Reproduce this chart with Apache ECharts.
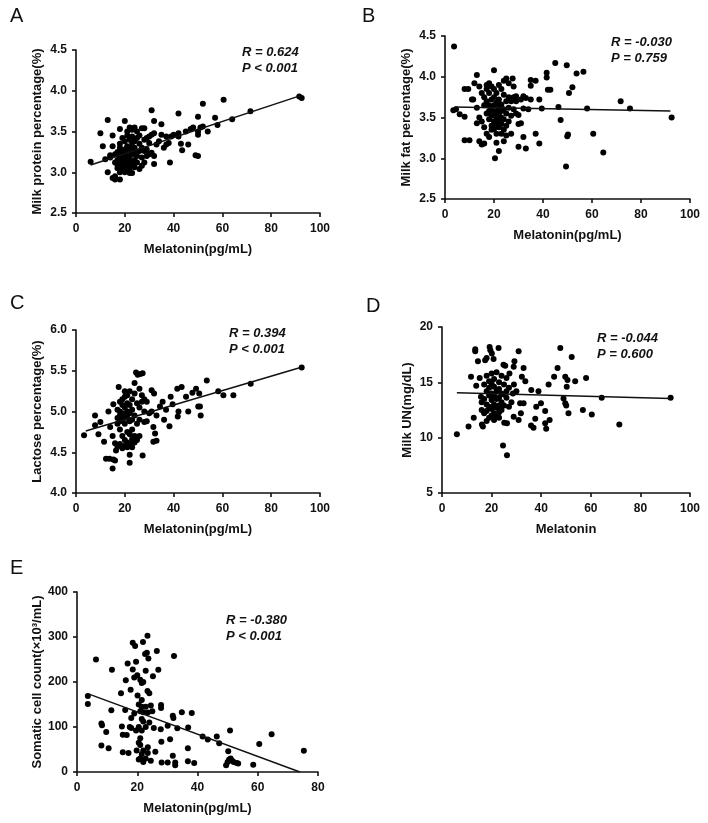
<!DOCTYPE html>
<html>
<head>
<meta charset="utf-8">
<script src="https://cdn.jsdelivr.net/npm/echarts@6/dist/echarts.min.js"></script>
<style>
  html, body { margin: 0; background: #fff; }
  #chart { width: 708px; height: 823px; }
</style>
</head>
<body>
<div id="chart"></div>
<script>
// melatonin (pg/mL) vs milk traits, one [x, y] pair per cow
const proteinData = [
  [6, 3.13], [10, 3.48], [11, 3.32], [12, 3.16], [13, 3.64], [13, 3.0], [14, 3.21], [14, 3.18], [15, 3.45], [15, 3.32],
  [15, 2.93], [16, 2.91], [16, 2.95], [16, 3.12], [16, 3.22], [17, 3.09], [17, 3.05], [17, 3.25], [17, 3.15], [18, 3.53],
  [18, 2.91], [18, 3.0], [18, 3.1], [18, 3.2], [18, 3.3], [18, 3.35], [19, 3.42], [19, 3.05], [19, 3.15], [19, 3.25],
  [19, 3.12], [19, 3.02], [20, 3.63], [20, 3.38], [20, 3.28], [20, 3.18], [20, 3.08], [20, 3.0], [20, 3.22], [20, 3.12],
  [21, 3.5], [21, 3.45], [21, 3.32], [21, 3.26], [21, 3.16], [21, 3.06], [21, 3.1], [21, 3.02], [22, 3.55], [22, 3.4],
  [22, 3.3], [22, 3.2], [22, 3.14], [22, 3.05], [22, 2.99], [23, 3.52], [23, 3.44], [23, 3.36], [23, 3.28], [23, 3.22],
  [23, 3.1], [23, 2.99], [24, 3.55], [24, 3.38], [24, 3.3], [24, 3.25], [24, 3.15], [24, 3.06], [25, 3.5], [25, 3.42],
  [25, 3.2], [25, 3.12], [26, 3.45], [26, 3.35], [26, 3.26], [26, 3.04], [27, 3.54], [27, 3.3], [27, 3.18], [27, 3.08],
  [28, 3.54], [28, 3.4], [28, 3.26], [28, 3.12], [29, 3.42], [29, 3.28], [29, 3.2], [30, 3.44], [30, 3.36], [30, 3.22],
  [31, 3.46], [31, 3.76], [31, 3.24], [32, 3.48], [32, 3.63], [32, 3.1], [32, 3.2], [33, 3.34], [34, 3.38], [35, 3.59],
  [35, 3.46], [36, 3.3], [37, 3.34], [37, 3.44], [38, 3.36], [38.5, 3.12], [39, 3.44], [40, 3.46], [42, 3.72], [42, 3.44],
  [42, 3.48], [43, 3.35], [43.5, 3.27], [45, 3.5], [46, 3.34], [47, 3.53], [48, 3.55], [49, 3.21], [50, 3.2], [50, 3.46],
  [50, 3.68], [50, 3.5], [51, 3.55], [52, 3.84], [52, 3.56], [54, 3.5], [57, 3.67], [58, 3.58], [60.5, 3.89], [64, 3.65],
  [71.5, 3.75], [91.5, 3.93], [92.5, 3.91]
];
const fatData = [
  [3.7, 4.37], [3.4, 3.59], [4.5, 3.6], [6, 3.54], [8, 3.51], [8, 3.22], [10, 3.22], [8, 3.85], [9.5, 3.85], [11, 3.72],
  [11.5, 3.72], [12, 3.92], [13, 4.02], [13, 3.43], [13, 3.62], [14, 3.21], [14, 3.5], [14, 3.88], [15, 3.17], [15, 3.8],
  [15, 3.45], [16, 3.18], [16, 3.65], [16, 3.75], [16, 3.38], [17, 3.85], [17, 3.55], [17, 3.3], [17, 3.9], [17, 3.7],
  [18, 3.58], [18, 3.48], [18, 3.8], [18, 3.26], [18, 3.65], [18, 3.92], [19, 3.88], [19, 3.72], [19, 3.6], [19, 3.4],
  [19, 3.52], [19, 3.35], [20, 4.08], [20, 3.85], [20, 3.75], [20, 3.65], [20, 3.55], [20, 3.45], [20.4, 3.0], [20, 3.36],
  [21, 3.19], [21, 3.8], [21, 3.68], [21, 3.58], [21, 3.5], [21, 3.42], [21, 3.3], [22, 3.09], [22, 3.9], [22, 3.72],
  [22, 3.62], [22, 3.55], [22, 3.46], [22, 3.38], [23, 3.85], [23, 3.66], [23, 3.58], [23, 3.5], [23, 3.42], [23, 3.3],
  [24, 3.21], [24, 3.95], [24, 3.78], [24, 3.6], [24, 3.48], [24, 3.35], [25, 3.98], [25, 3.7], [25, 3.55], [25, 3.4],
  [25, 3.28], [26, 3.75], [26, 3.62], [26, 3.45], [26, 3.92], [27, 3.7], [27, 3.52], [27, 3.3], [27.6, 3.98], [28, 3.75],
  [28, 3.6], [28, 3.88], [29, 3.55], [29, 3.76], [29, 3.7], [30, 3.14], [30, 3.53], [30, 3.42], [31, 3.72], [31, 3.43],
  [32, 3.61], [32, 3.26], [32, 3.76], [33, 3.12], [33, 3.74], [34, 3.6], [35, 3.96], [35, 3.89], [35, 3.72], [37, 3.95],
  [37, 3.3], [38.5, 3.18], [38.5, 3.72], [39.5, 3.61], [41.5, 4.05], [41.5, 3.99], [42, 3.84], [43, 3.84], [45, 4.17], [46.3, 3.63],
  [47.2, 3.47], [49.7, 4.14], [50.2, 3.29], [49.9, 3.27], [49.4, 2.9], [50.6, 3.8], [52, 3.87], [53.7, 4.04], [56.5, 4.06], [58, 3.61],
  [60.5, 3.3], [64.6, 3.07], [71.7, 3.7], [75.5, 3.61], [92.5, 3.5]
];
const lactoseData = [
  [3.3, 4.71], [7.8, 4.95], [7.8, 4.83], [9.2, 4.72], [10, 4.87], [11.5, 4.63], [12.3, 4.42], [13.3, 5.0], [13.7, 4.42], [14, 4.81],
  [15, 4.7], [15, 4.3], [15.3, 4.41], [15.3, 5.09], [16, 4.4], [16, 4.61], [16.4, 4.52], [17, 4.57], [17, 4.92], [17, 4.85],
  [17, 5.02], [17.5, 5.3], [18, 5.12], [18, 5.0], [18, 4.88], [18, 4.78], [18, 4.6], [18, 4.95], [19, 5.08], [19, 4.98],
  [19, 4.9], [19, 4.7], [19, 4.55], [19, 5.15], [20, 5.25], [20, 5.05], [20, 4.95], [20, 4.85], [20, 4.65], [20, 4.58],
  [20, 5.18], [21, 5.2], [21, 5.1], [21, 5.0], [21, 4.92], [21, 4.75], [21, 4.62], [21, 4.56], [22, 4.37], [22, 4.47],
  [22, 5.08], [22, 4.98], [22, 4.88], [22, 4.72], [22, 4.6], [22, 5.25], [23, 5.15], [23, 5.02], [23, 4.9], [23, 4.78],
  [23, 4.66], [23, 4.56], [24, 5.35], [24, 5.22], [24, 4.95], [24, 4.7], [24, 4.62], [24.6, 5.48], [25.3, 5.45], [25, 5.1],
  [25, 4.85], [25, 4.65], [26.3, 5.46], [26, 5.28], [26, 5.05], [26, 4.9], [26, 4.7], [27.3, 5.47], [27.3, 4.46], [27, 5.2],
  [27, 5.12], [28, 4.87], [28, 5.15], [28, 5.0], [29, 5.12], [29, 4.88], [30, 4.98], [31, 5.26], [31, 5.0], [31.7, 4.63],
  [31.7, 4.81], [32, 5.22], [32.4, 4.73], [33, 4.64], [33, 4.95], [34.4, 5.06], [35.5, 5.12], [36.1, 4.9], [36.9, 5.02], [38.3, 4.82],
  [38.8, 5.18], [39.6, 5.09], [41.7, 4.94], [42, 5.0], [41.5, 5.28], [43.3, 5.3], [45.1, 5.18], [46, 5.0], [47.7, 5.23], [49.2, 5.28],
  [50.5, 5.22], [50.1, 5.06], [50.8, 5.06], [51.1, 4.95], [53.6, 5.38], [58.3, 5.25], [60.4, 5.2], [64.5, 5.2], [71.6, 5.34], [92.5, 5.54]
];
const ureaData = [
  [6, 10.3], [10.7, 11.0], [11.7, 15.5], [12.8, 11.8], [13.4, 18.0], [13.4, 17.8], [13.8, 14.7], [14.5, 16.9], [15.2, 15.4], [15.7, 13.7],
  [16.1, 11.2], [16.5, 11.0], [16, 13.2], [16, 12.5], [17, 13.5], [17, 12.2], [17, 14.8], [17.4, 17.0], [18, 17.2], [18, 15.6],
  [18, 14.2], [18, 13.0], [18, 12.4], [18, 11.5], [19.2, 18.2], [19.5, 17.9], [19, 15.1], [19, 14.5], [19, 13.8], [19, 12.8],
  [19, 11.8], [20.1, 17.6], [20, 15.8], [20, 14.9], [20, 14.0], [20, 13.4], [20, 12.6], [20, 12.0], [20.8, 17.1], [21, 15.3],
  [21, 14.6], [21, 13.8], [21, 13.0], [21, 12.2], [21, 11.6], [22, 15.9], [22, 14.2], [22, 13.5], [22, 12.7], [22, 12.0],
  [22.8, 18.1], [23, 15.0], [23, 14.4], [23, 13.6], [23, 12.9], [23, 12.3], [23, 11.8], [24, 15.6], [24, 14.0], [24, 13.2],
  [24, 12.5], [24.6, 9.3], [24.8, 16.6], [25.5, 16.5], [25, 14.8], [25, 13.9], [25, 12.9], [25.1, 11.35], [26.2, 11.3], [26.2, 8.4],
  [26, 15.4], [26, 14.2], [26, 13.6], [27.2, 15.8], [27, 14.5], [27, 12.8], [28, 13.2], [28.6, 14.0], [28.9, 16.4], [29.2, 16.9],
  [28.9, 11.9], [29, 14.8], [30.9, 17.8], [30.9, 11.6], [30, 14.2], [31.5, 13.1], [31.8, 12.2], [32.2, 15.5], [32.9, 16.3], [32.9, 13.1],
  [33.6, 15.1], [35.9, 11.1], [36, 14.3], [36.9, 10.9], [37.6, 11.7], [38, 12.8], [38.9, 14.2], [39.9, 13.1], [41.6, 12.4], [42, 10.8],
  [41.6, 11.3], [43, 14.8], [43.4, 11.6], [45.2, 15.5], [46.6, 16.3], [47.7, 18.1], [49, 13.55], [49.7, 13.1], [50.1, 12.9], [49.7, 15.5],
  [50.6, 15.2], [50.3, 14.6], [51, 12.2], [52.3, 17.3], [53.7, 15.1], [56.8, 12.5], [58.1, 15.4], [60.4, 12.1], [64.4, 13.6], [71.5, 11.2],
  [92.2, 13.6]
];
const sccData = [
  [3.6, 169], [3.6, 151], [6.3, 250], [8.1, 108], [8.3, 104], [8.1, 59], [9.7, 89], [10.5, 53], [11.4, 137], [11.6, 227],
  [14.6, 175], [14.9, 101], [15.2, 83], [15.2, 44], [16, 138], [16.2, 204], [16.5, 82], [16.8, 241], [17.1, 42], [17.5, 100],
  [17.8, 183], [18, 120], [18.5, 287], [18, 98], [18.5, 228], [19, 210], [19.3, 280], [19.6, 245], [19, 130], [19.6, 92],
  [19.8, 48], [20, 215], [20.1, 170], [20.5, 150], [20.5, 100], [20.5, 65], [20.5, 28], [21, 205], [21, 135], [21, 75],
  [21, 60], [21, 30], [21.5, 198], [21.5, 160], [21.5, 145], [21.5, 118], [21.5, 92], [21.5, 40], [21.9, 289], [22, 112],
  [22, 200], [22, 133], [22, 22], [22, 48], [22.6, 262], [22.8, 225], [22.8, 145], [22.8, 100], [22.8, 30], [23.2, 265],
  [23.4, 303], [23.4, 180], [23.7, 252], [23.5, 132], [23.5, 55], [23.5, 42], [24, 175], [24, 110], [24.5, 148], [24.5, 25],
  [25, 135], [25.2, 213], [25.5, 98], [26, 45], [26.5, 269], [27, 227], [27.9, 149], [27.9, 142], [27.8, 95], [28, 67],
  [28.1, 21], [30.1, 103], [30.1, 21], [30.9, 73], [31.8, 125], [31.8, 36], [32, 120], [32.2, 258], [32.6, 21], [32.6, 15],
  [33.3, 97], [34.8, 133], [36.8, 53], [36.8, 24], [36.9, 99], [38.1, 131], [38.9, 20], [41.7, 79], [43.4, 72], [46.4, 79],
  [47.2, 64], [49.5, 15], [50, 22], [50.2, 46], [50.5, 28], [50.8, 92], [51, 30], [51.5, 25], [52, 22], [53, 20],
  [53.5, 19], [58.5, 16], [60.5, 62], [64.6, 84], [75.3, 47]
];

// end points of the fitted regression lines
const proteinFit = [[6, 3.09], [92, 3.94]];
const fatFit = [[4, 3.63], [92, 3.58]];
const lactoseFit = [[4, 4.76], [92, 5.54]];
const ureaFit = [[6, 14.05], [92, 13.55]];
const sccFit = [[4, 173], [74, 0]];

const panelLetters = ['A', 'B', 'C', 'D', 'E'];
const xNames = ['Melatonin(pg/mL)', 'Melatonin(pg/mL)', 'Melatonin(pg/mL)', 'Melatonin', 'Melatonin(pg/mL)'];
const yNames = ['Milk protein percentage(%)', 'Milk fat percentage(%)', 'Lactose percentage(%)', 'Milk UN(mg/dL)', 'Somatic cell count(×10³/mL)'];
const statTexts = ['R = 0.624\nP < 0.001', 'R = -0.030\nP = 0.759', 'R = 0.394\nP < 0.001', 'R = -0.044\nP = 0.600', 'R = -0.380\nP < 0.001'];
const xRanges = [[0, 100, 20], [0, 100, 20], [0, 100, 20], [0, 100, 20], [0, 80, 20]];
const yRanges = [[2.5, 4.5, 0.5], [2.5, 4.5, 0.5], [4.0, 6.0, 0.5], [5, 20, 5], [0, 400, 100]];
const yDecimals = [1, 1, 1, 0, 0];

const pointSets = [proteinData, fatData, lactoseData, ureaData, sccData];
const fitSets = [proteinFit, fatFit, lactoseFit, ureaFit, sccFit];

const FONT = '"Liberation Sans", Arial, sans-serif';

// pixel layout of each panel
const grids = [
  { left: 76, top: 50, width: 244, height: 163 },
  { left: 445, top: 36, width: 245, height: 163 },
  { left: 76, top: 330, width: 244, height: 163 },
  { left: 442, top: 327, width: 248, height: 166 },
  { left: 77, top: 592, width: 241, height: 180 },
];
const yNameGaps = [32, 32, 32, 28, 33];
const letterPos = [[10, 6], [362, 6], [10, 293], [366, 296], [10, 558]];
const statPos = [[242, 44], [611, 34], [229, 325], [597, 330], [226, 612]];

const axisLine = { show: true, lineStyle: { color: '#111', width: 1.6 } };
const axisTick = { show: true, inside: false, length: 4, lineStyle: { color: '#111', width: 1.6 } };

const xAxes = [];
const yAxes = [];
const series = [];
const graphics = [];

for (let i = 0; i < 5; i += 1) {
  xAxes.push({
    gridIndex: i,
    type: 'value',
    min: xRanges[i][0],
    max: xRanges[i][1],
    interval: xRanges[i][2],
    name: xNames[i],
    nameLocation: 'middle',
    nameGap: 30,
    nameTextStyle: { fontFamily: FONT, fontWeight: 'bold', fontSize: 13, color: '#111' },
    axisLine,
    axisTick,
    splitLine: { show: false },
    axisLabel: { fontFamily: FONT, fontWeight: 'bold', fontSize: 12, color: '#111', margin: 10 },
  });
  yAxes.push({
    gridIndex: i,
    type: 'value',
    min: yRanges[i][0],
    max: yRanges[i][1],
    interval: yRanges[i][2],
    name: yNames[i],
    nameLocation: 'middle',
    nameGap: yNameGaps[i],
    nameTextStyle: { fontFamily: FONT, fontWeight: 'bold', fontSize: 13, color: '#111' },
    axisLine,
    axisTick,
    splitLine: { show: false },
    axisLabel: {
      fontFamily: FONT,
      fontWeight: 'bold',
      fontSize: 12,
      color: '#111',
      margin: 9,
      formatter: (v) => v.toFixed(yDecimals[i]),
    },
  });
  series.push({
    type: 'scatter',
    xAxisIndex: i,
    yAxisIndex: i,
    data: pointSets[i],
    symbolSize: 6,
    itemStyle: { color: '#000', opacity: 1 },
    silent: true,
  });
  series.push({
    type: 'line',
    xAxisIndex: i,
    yAxisIndex: i,
    data: fitSets[i],
    symbol: 'none',
    lineStyle: { color: '#111', width: 1.5 },
    silent: true,
  });
  graphics.push({
    type: 'text',
    x: letterPos[i][0],
    y: letterPos[i][1],
    style: { text: panelLetters[i], font: `20px ${FONT}`, fill: '#111' },
  });
  graphics.push({
    type: 'text',
    x: statPos[i][0],
    y: statPos[i][1],
    style: {
      text: statTexts[i],
      font: `italic bold 13px ${FONT}`,
      fill: '#111',
      lineHeight: 16,
    },
  });
}

const chart = echarts.init(document.getElementById('chart'));
chart.setOption({
  animation: false,
  backgroundColor: '#fff',
  grid: grids,
  xAxis: xAxes,
  yAxis: yAxes,
  series,
  graphic: graphics,
});
</script>
</body>
</html>
